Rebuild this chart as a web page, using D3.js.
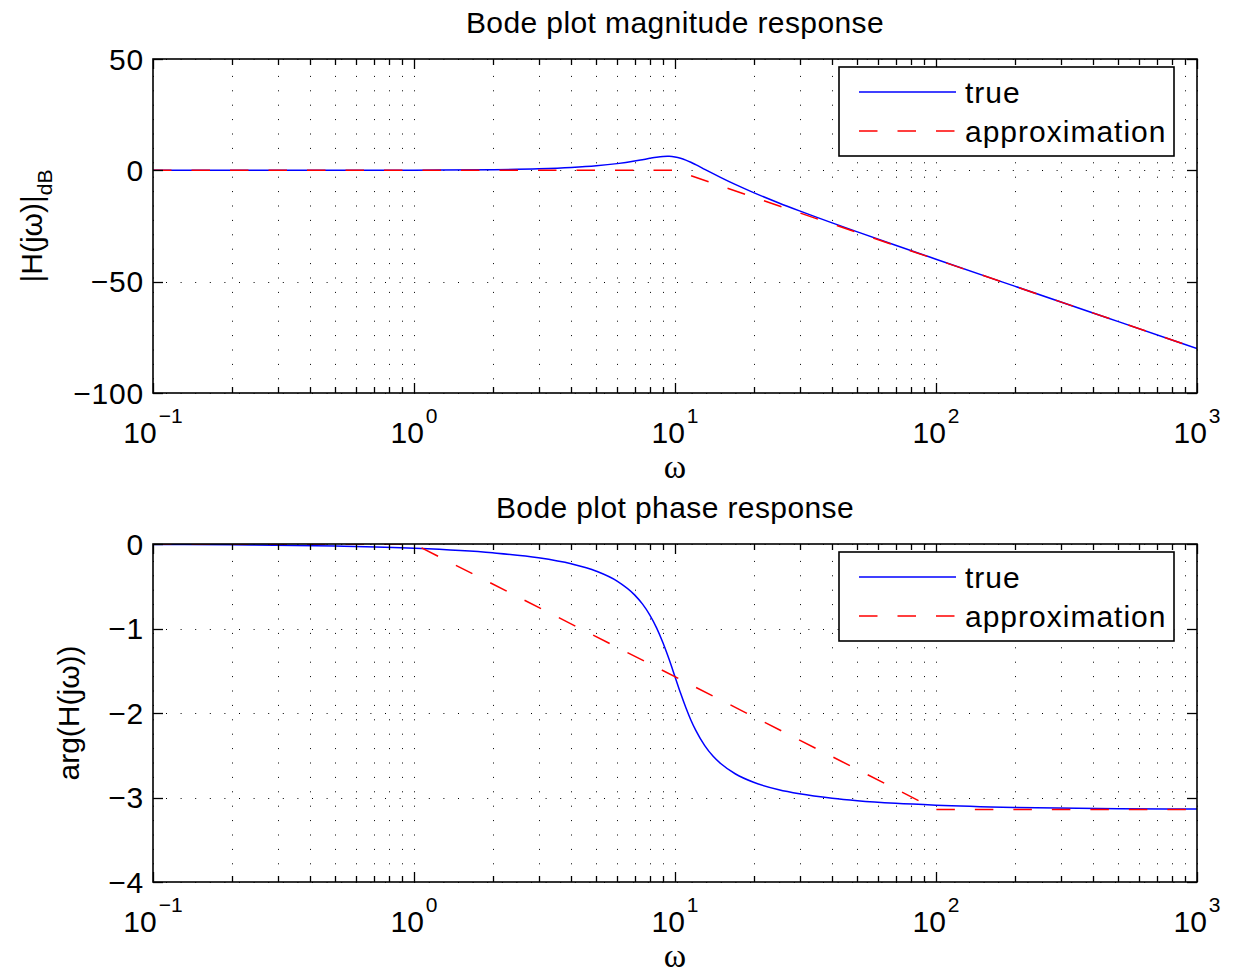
<!DOCTYPE html>
<html>
<head>
<meta charset="utf-8">
<script src="https://cdn.jsdelivr.net/npm/d3@7"></script>
<style>
  html, body { margin: 0; padding: 0; background: #fff; }
  svg { display: block; font-family: "Liberation Sans", Arial, sans-serif; }
</style>
</head>
<body>
<svg id="svg" width="1233" height="973"></svg>
<script>
// frequencies (rad/s)
var omega = [0.1, 0.2, 0.5, 1, 2, 3, 4, 5, 6, 7, 7.5, 8, 8.5, 9, 9.35, 9.5, 10, 10.5, 11, 11.5,
             12, 13, 14, 15, 17, 20, 25, 30, 40, 50, 70, 100, 200, 500, 1000];
// true magnitude, dB
var magTrue = [0, 0, 0.02, 0.08, 0.31, 0.7, 1.28, 2.04, 3.01, 4.17, 4.79, 5.38, 5.89, 6.22, 6.3, 6.29, 6.02, 5.44, 4.6, 3.62,
               2.57, 0.46, -1.5, -3.27, -6.33, -10, -14.64, -18.21, -23.6, -27.65, -33.65, -39.92, -52.02, -67.96, -80];
// true phase, rad
var phaseTrue = [-0.005, -0.01, -0.025, -0.05, -0.104, -0.163, -0.234, -0.322, -0.439, -0.602, -0.709, -0.838, -0.992, -1.172, -1.308, -1.368, -1.571, -1.764, -1.935, -2.082,
                 -2.203, -2.386, -2.512, -2.601, -2.719, -2.82, -2.908, -2.956, -3.009, -3.038, -3.069, -3.091, -3.117, -3.132, -3.137];

// asymptotic approximations (break points)
var approxMagOmega = [0.1, 10, 1000];
var approxMag = [0, 0, -80];
var approxPhaseOmega = [0.1, 1, 100, 1000];
var approxPhase = [0, 0, -3.1416, -3.1416];

// axes ticks
var xMajor = [0.1, 1, 10, 100, 1000];
var xExponents = ["\u22121", "0", "1", "2", "3"];
var magTicks = [-100, -50, 0, 50];
var phaseTicks = [-4, -3, -2, -1, 0];
var legendLabels = ["true", "approximation"];

var svg = d3.select("svg");
var left = 153, right = 1197;

function fmt(v) {
    return v < 0 ? "\u2212" + Math.abs(v) : String(v);
}

function panel(cfg) {
    var top = cfg.top, bottom = cfg.bottom;
    var x = d3.scaleLog().domain([0.1, 1000]).range([left, right]);
    var y = d3.scaleLinear().domain(cfg.yDomain).range([bottom, top]);
    var g = svg.append("g");

    var clipId = "clip" + cfg.id;
    svg.append("clipPath").attr("id", clipId)
        .append("rect").attr("x", left).attr("y", top)
        .attr("width", right - left).attr("height", bottom - top);

    // dotted grid
    var allX = x.ticks();
    g.selectAll(".vgrid").data(allX).enter().append("line")
        .attr("x1", function (d) { return Math.round(x(d)) + 0.5; })
        .attr("x2", function (d) { return Math.round(x(d)) + 0.5; })
        .attr("y1", top).attr("y2", bottom)
        .attr("stroke", "#000").attr("stroke-width", 1)
        .attr("stroke-dasharray", "1,13.4").attr("stroke-dashoffset", -2.5);
    g.selectAll(".hgrid").data(cfg.yTicks).enter().append("line")
        .attr("x1", left).attr("x2", right)
        .attr("y1", function (d) { return Math.round(y(d)) + 0.5; })
        .attr("y2", function (d) { return Math.round(y(d)) + 0.5; })
        .attr("stroke", "#000").attr("stroke-width", 1)
        .attr("stroke-dasharray", "1,13.6").attr("stroke-dashoffset", -13);

    var line = d3.line()
        .x(function (d) { return x(d[0]); })
        .y(function (d) { return y(d[1]); });

    var lines = g.append("g").attr("clip-path", "url(#" + clipId + ")");
    lines.append("path")
        .datum(d3.zip(omega, cfg.trueVals))
        .attr("fill", "none").attr("stroke", "#0000ff").attr("stroke-width", 1.5)
        .attr("d", line.curve(d3.curveMonotoneX));
    lines.append("path")
        .datum(d3.zip(cfg.approxX, cfg.approxY))
        .attr("fill", "none").attr("stroke", "#ff0000").attr("stroke-width", 1.5)
        .attr("stroke-dasharray", "18.5,20")
        .attr("d", line.curve(d3.curveLinear));

    // ticks on all four sides, pointing inward
    var tk = g.append("g").attr("stroke", "#000").attr("stroke-width", 1.3);
    allX.forEach(function (d) {
        var len = xMajor.indexOf(d) >= 0 ? 10 : 6;
        var xp = Math.round(x(d)) + 0.5;
        tk.append("line").attr("x1", xp).attr("x2", xp).attr("y1", bottom).attr("y2", bottom - len);
        tk.append("line").attr("x1", xp).attr("x2", xp).attr("y1", top).attr("y2", top + len);
    });
    cfg.yTicks.forEach(function (d) {
        var yp = Math.round(y(d)) + 0.5;
        tk.append("line").attr("x1", left).attr("x2", left + 10).attr("y1", yp).attr("y2", yp);
        tk.append("line").attr("x1", right).attr("x2", right - 10).attr("y1", yp).attr("y2", yp);
    });

    g.append("rect")
        .attr("x", left).attr("y", top)
        .attr("width", right - left).attr("height", bottom - top)
        .attr("fill", "none").attr("stroke", "#000").attr("stroke-width", 1.6);

    // y tick labels
    g.selectAll(".ylab").data(cfg.yTicks).enter().append("text")
        .attr("x", left - 9).attr("y", function (d) { return y(d); })
        .attr("dy", "0.36em")
        .attr("text-anchor", "end")
        .attr("font-size", 30).attr("letter-spacing", 0.8)
        .text(fmt);

    // x tick labels 10^n
    xMajor.forEach(function (d, i) {
        var t = g.append("text")
            .attr("x", x(d)).attr("y", bottom + 50)
            .attr("text-anchor", "middle")
            .attr("font-size", 30);
        t.append("tspan").text("10");
        t.append("tspan").attr("dy", -20).attr("dx", 2).attr("font-size", 21).text(xExponents[i]);
    });

    // x label
    g.append("text")
        .attr("x", (left + right) / 2).attr("y", bottom + 85)
        .attr("text-anchor", "middle")
        .attr("font-family", "'Liberation Serif', 'Times New Roman', serif")
        .attr("font-size", 34)
        .text("\u03c9");

    // title
    g.append("text")
        .attr("x", (left + right) / 2).attr("y", top - 26)
        .attr("text-anchor", "middle")
        .attr("font-size", 30).attr("letter-spacing", 0.4)
        .text(cfg.title);

    // y label
    var yl = g.append("text")
        .attr("transform", "translate(" + cfg.ylabelX + "," + (top + bottom) / 2 + ") rotate(-90)")
        .attr("text-anchor", "middle")
        .attr("font-size", 30);
    yl.append("tspan").text(cfg.ylabel);
    if (cfg.ylabelSub) {
        yl.append("tspan").attr("dy", 10).attr("font-size", 21).text(cfg.ylabelSub);
    }

    // legend
    var lx = 839, ly = top + 8, lw = 335, lh = 89;
    var lg = g.append("g");
    lg.append("rect").attr("x", lx).attr("y", ly).attr("width", lw).attr("height", lh)
        .attr("fill", "#fff").attr("stroke", "#000").attr("stroke-width", 1.6);
    var styles = [
        {color: "#0000ff", dash: null},
        {color: "#ff0000", dash: "18.5,20"}
    ];
    legendLabels.forEach(function (name, i) {
        var yy = ly + 25 + i * 39;
        lg.append("line")
            .attr("x1", 859).attr("x2", 956).attr("y1", yy).attr("y2", yy)
            .attr("stroke", styles[i].color).attr("stroke-width", 1.5)
            .attr("stroke-dasharray", styles[i].dash);
        lg.append("text")
            .attr("x", 965).attr("y", yy + 11)
            .attr("font-size", 30).attr("letter-spacing", 1)
            .text(name);
    });
}

panel({
    id: "mag", top: 59, bottom: 393,
    yDomain: [-100, 50], yTicks: magTicks,
    trueVals: magTrue, approxX: approxMagOmega, approxY: approxMag,
    title: "Bode plot magnitude response",
    ylabel: "|H(j\u03c9)|", ylabelSub: "dB", ylabelX: 42
});

panel({
    id: "phase", top: 544, bottom: 882,
    yDomain: [-4, 0], yTicks: phaseTicks,
    trueVals: phaseTrue, approxX: approxPhaseOmega, approxY: approxPhase,
    title: "Bode plot phase response",
    ylabel: "arg(H(j\u03c9))", ylabelX: 79
});
</script>
</body>
</html>
